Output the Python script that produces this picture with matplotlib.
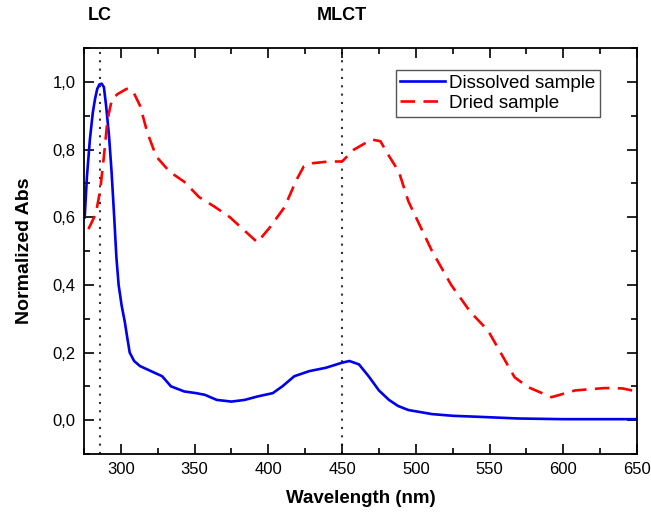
import numpy as np
import matplotlib
matplotlib.use("Agg")
import matplotlib.pyplot as plt
from matplotlib.ticker import MultipleLocator, FuncFormatter

plt.rcParams['font.family'] = ['Liberation Sans', 'DejaVu Sans']

# Dissolved sample (blue, solid)
wl_dissolved = np.array([
    275.5, 277, 279, 281, 282.5, 284, 285.5, 287, 288.5, 290, 292, 293.7, 295.5, 297,
    298.5, 300.5, 302.7, 304.5, 306, 309, 313, 318, 323,
    328, 334, 343, 351, 357, 365, 375, 384, 392.5, 403, 409.5, 417.6, 427.7,
    439, 450, 455, 461.5, 468, 475, 481.8, 488, 495, 511, 525, 542.5, 569.6, 600, 650
])
abs_dissolved = np.array([
    0.60, 0.72, 0.83, 0.91, 0.95, 0.98, 0.993, 0.995, 0.985, 0.93, 0.84, 0.735, 0.60, 0.48,
    0.40, 0.34, 0.29, 0.24, 0.20, 0.175, 0.16, 0.15, 0.14,
    0.13, 0.10, 0.085, 0.08, 0.075, 0.06, 0.055, 0.06, 0.07, 0.08, 0.10, 0.13, 0.145,
    0.155, 0.17, 0.175, 0.165, 0.13, 0.088, 0.06, 0.042, 0.03, 0.018, 0.013, 0.01, 0.005, 0.003, 0.003
])

# Dried sample (red, dashed)
wl_dried = np.array([
    278, 283, 286, 288.5, 291, 294, 298, 304, 308, 313, 318, 324, 333, 343, 353,
    364, 374, 384, 392.6, 401, 411, 419, 424, 430, 441, 450, 458, 470, 476, 482,
    488.5, 495, 511, 524, 537, 549, 558, 567, 576, 592, 608, 628, 640, 650
])
abs_dried = np.array([
    0.565, 0.61, 0.68, 0.78, 0.89, 0.95, 0.965, 0.98, 0.975, 0.93, 0.85, 0.78, 0.735,
    0.705, 0.66, 0.63, 0.60, 0.56, 0.526, 0.57, 0.63, 0.71, 0.75, 0.76, 0.765, 0.765,
    0.80, 0.83, 0.825, 0.78, 0.735, 0.647, 0.50, 0.40, 0.32, 0.265, 0.196, 0.127,
    0.098, 0.068, 0.088, 0.095, 0.094, 0.085
])

band_positions = [286, 450]
band_labels = ['LC', 'MLCT']

fig = plt.figure(figsize=(6.51, 5.13), dpi=100)
ax = fig.add_axes([0.129, 0.115, 0.8495, 0.791])

ax.plot(wl_dissolved, abs_dissolved, color='#0000ee', lw=1.9, label='Dissolved sample')
ax.plot(wl_dried, abs_dried, color='#ff0000', lw=1.9, ls=(0, (5.5, 3.2)), label='Dried sample')

for pos, lab in zip(band_positions, band_labels):
    ax.axvline(pos, color='#333333', ls=(0, (1, 3)), lw=1.5, zorder=0)
    ax.text(pos, 1.06, lab, transform=ax.get_xaxis_transform(), ha='center',
            va='bottom', fontsize=13, fontweight='bold')

ax.set_xlim(275, 650)
ax.set_ylim(-0.1, 1.1)
ax.xaxis.set_major_locator(MultipleLocator(50))
ax.xaxis.set_minor_locator(MultipleLocator(25))
ax.yaxis.set_major_locator(MultipleLocator(0.2))
ax.yaxis.set_minor_locator(MultipleLocator(0.1))
ax.yaxis.set_major_formatter(FuncFormatter(lambda v, p: f'{v:.1f}'.replace('.', ',')))

ax.tick_params(which='both', direction='in', top=True, right=True, labelsize=12, width=1.2)
ax.tick_params(which='major', length=7, pad=6)
ax.tick_params(which='minor', length=4)
for s in ax.spines.values():
    s.set_linewidth(1.3)

ax.set_xlabel('Wavelength (nm)', fontsize=13.5, fontweight='bold', labelpad=9)
ax.set_ylabel('Normalized Abs', fontsize=14, fontweight='bold', labelpad=14)

leg = ax.legend(loc='upper right', bbox_to_anchor=(0.933, 0.946), borderaxespad=0,
                fontsize=13.5, handlelength=2.4, handletextpad=0.2, borderpad=0.25,
                labelspacing=0.15, fancybox=False, framealpha=1)
leg.get_frame().set_edgecolor('#555555')
leg.get_frame().set_linewidth(1.0)

fig.savefig('out.png', dpi=100)
